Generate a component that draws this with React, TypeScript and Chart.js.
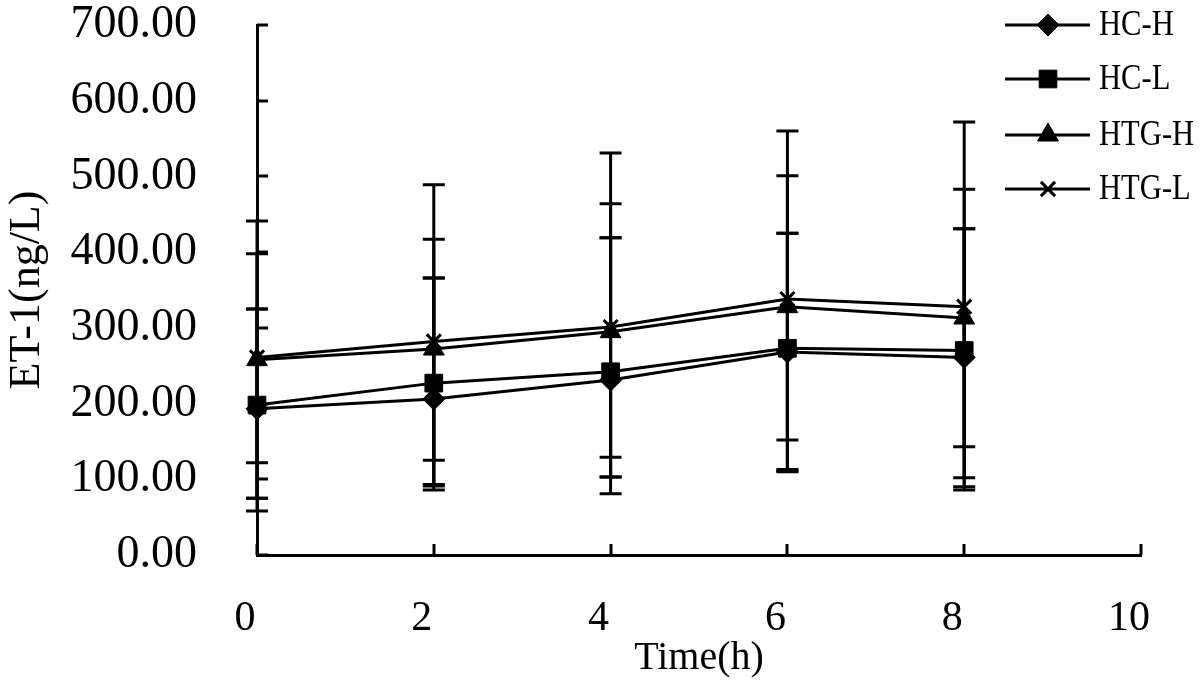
import React, { useEffect, useRef } from 'react';
import { Chart, registerables } from 'chart.js';
import { drawPoint } from 'chart.js/helpers';

Chart.register(...registerables);

const FONT = "'Liberation Serif', 'Times New Roman', serif";

// Time points (h) and axis ticks
const timePoints = [0, 2, 4, 6, 8];
const xTickValues = [0, 2, 4, 6, 8, 10];
const yTickValues = [0, 100, 200, 300, 400, 500, 600, 700];

// Series labels
const seriesLabels = ['HC-H', 'HC-L', 'HTG-H', 'HTG-L'];

// Means (ng/L)
const hcHMean = [193, 206, 231, 268, 261];
const hcLMean = [198, 227, 242, 273, 270];
const htgHMean = [258, 272, 295, 328, 313];
const htgLMean = [261, 282, 301, 338, 328];

// Error bar upper / lower bounds (ng/L)
const hcHHigh = [325, 366, 419, 425, 431];
const hcHLow = [58, 93, 103, 113, 90];
const hcLHigh = [325, 366, 419, 425, 431];
const hcLLow = [75, 91, 103, 110, 102];
const htgHHigh = [398, 417, 464, 501, 483];
const htgHLow = [122, 125, 129, 152, 143];
const htgLHigh = [441, 489, 531, 560, 572];
const htgLLow = [75, 86, 81, 111, 86];

const pointStyles = ['rectRot', 'rect', 'triangle', 'crossRot'];
const pointRadii = [11, 12.5, 12, 10];

const means = [hcHMean, hcLMean, htgHMean, htgLMean];
const highs = [hcHHigh, hcLHigh, htgHHigh, htgLHigh];
const lows = [hcHLow, hcLLow, htgHLow, htgLLow];

const errorBarPlugin = {
  id: 'errorBars',
  beforeDatasetsDraw(chart: any) {
    const { ctx, scales } = chart;
    const x = scales.x;
    const y = scales.y;
    ctx.save();
    ctx.strokeStyle = '#000';
    ctx.lineWidth = 3;
    ctx.lineCap = 'butt';
    means.forEach((_m, si) => {
      timePoints.forEach((t, i) => {
        const px = x.getPixelForValue(t);
        const top = y.getPixelForValue(highs[si][i]);
        const bot = y.getPixelForValue(lows[si][i]);
        ctx.beginPath();
        ctx.moveTo(px, top);
        ctx.lineTo(px, bot);
        ctx.moveTo(px - 11, top);
        ctx.lineTo(px + 11, top);
        ctx.moveTo(px - 11, bot);
        ctx.lineTo(px + 11, bot);
        ctx.stroke();
      });
    });
    ctx.restore();
  },
};

const axisTickPlugin = {
  id: 'innerTicks',
  afterDraw(chart: any) {
    const { ctx, scales, chartArea } = chart;
    ctx.save();
    ctx.strokeStyle = '#000';
    ctx.lineWidth = 3;
    yTickValues.forEach((v) => {
      const py = Math.round(scales.y.getPixelForValue(v));
      ctx.beginPath();
      ctx.moveTo(chartArea.left, py);
      ctx.lineTo(chartArea.left + 11, py);
      ctx.stroke();
    });
    xTickValues.forEach((v) => {
      const px = Math.round(scales.x.getPixelForValue(v));
      ctx.beginPath();
      ctx.moveTo(px, chartArea.bottom);
      ctx.lineTo(px, chartArea.bottom - 11);
      ctx.stroke();
    });
    ctx.restore();
  },
};

const legendPlugin = {
  id: 'customLegend',
  afterDraw(chart: any) {
    const { ctx } = chart;
    const rows = [25, 79, 135, 189];
    ctx.save();
    seriesLabels.forEach((label, i) => {
      const y = rows[i];
      ctx.strokeStyle = '#000';
      ctx.lineWidth = 3;
      ctx.beginPath();
      ctx.moveTo(1005, y);
      ctx.lineTo(1090, y);
      ctx.stroke();
      ctx.fillStyle = '#000';
      ctx.strokeStyle = '#000';
      ctx.lineWidth = i === 3 ? 3 : 1;
      drawPoint(ctx, { pointStyle: pointStyles[i], radius: pointRadii[i], rotation: 0, borderWidth: ctx.lineWidth }, 1048, y);
      ctx.save();
      ctx.translate(1099, y + 1);
      ctx.scale(0.85, 1);
      ctx.font = `36px ${FONT}`;
      ctx.textBaseline = 'middle';
      ctx.textAlign = 'left';
      ctx.fillStyle = '#000';
      ctx.fillText(label, 0, 0);
      ctx.restore();
    });
    ctx.restore();
  },
};

export default function App() {
  const canvasRef = useRef<HTMLCanvasElement | null>(null);

  useEffect(() => {
    if (!canvasRef.current) return;
    const datasets = seriesLabels.map((label, si) => ({
      label,
      data: timePoints.map((t, i) => ({ x: t, y: means[si][i] })),
      borderColor: '#000',
      backgroundColor: '#000',
      borderWidth: 3,
      tension: 0,
      pointStyle: pointStyles[si],
      pointRadius: pointRadii[si],
      pointBackgroundColor: '#000',
      pointBorderColor: '#000',
      pointBorderWidth: si === 3 ? 3 : 1,
      clip: false as any,
    }));

    const chart = new Chart(canvasRef.current, {
      type: 'line',
      data: { datasets },
      plugins: [errorBarPlugin, axisTickPlugin, legendPlugin],
      options: {
        animation: false,
        responsive: false,
        devicePixelRatio: 1,
        layout: { padding: { top: 25, right: 59, left: 0, bottom: 0 } },
        plugins: {
          legend: { display: false },
          tooltip: { enabled: false },
        },
        scales: {
          x: {
            type: 'linear',
            min: 0,
            max: 10,
            afterBuildTicks: (scale: any) => {
              scale.ticks = xTickValues.map((v) => ({ value: v }));
            },
            grid: { display: false },
            border: { display: true, color: '#000', width: 3 },
            ticks: {
              color: '#000',
              font: { family: FONT, size: 42 },
              padding: 31,
              labelOffset: -12,
              maxRotation: 0,
              autoSkip: false,
            },
            title: {
              display: true,
              text: 'Time(h)',
              color: '#000',
              font: { family: FONT, size: 40 },
              padding: { top: 0, bottom: 7 },
            },
            afterFit: (scale: any) => {
              scale.height = 134;
              scale.paddingLeft = 0;
              scale.paddingRight = 0;
            },
          },
          y: {
            type: 'linear',
            min: 0,
            max: 700,
            afterBuildTicks: (scale: any) => {
              scale.ticks = yTickValues.map((v) => ({ value: v }));
            },
            grid: { display: false },
            border: { display: true, color: '#000', width: 3 },
            ticks: {
              color: '#000',
              font: { family: FONT, size: 46 },
              padding: 52,
              autoSkip: false,
              callback: (v: any) => Number(v).toFixed(2),
            },
            title: {
              display: true,
              text: 'ET-1(ng/L)',
              color: '#000',
              font: { family: FONT, size: 44 },
              padding: { top: 1, bottom: 0 },
            },
            afterFit: (scale: any) => {
              scale.width = 257;
              scale.paddingTop = 0;
              scale.paddingBottom = 0;
            },
          },
        },
      } as any,
    });
    return () => chart.destroy();
  }, []);

  return (
    <div style={{ position: 'absolute', left: 0, top: 0, width: 1200, height: 689, background: '#fff' }}>
      <canvas ref={canvasRef} width={1200} height={689} style={{ width: 1200, height: 689, display: 'block' }} />
    </div>
  );
}
